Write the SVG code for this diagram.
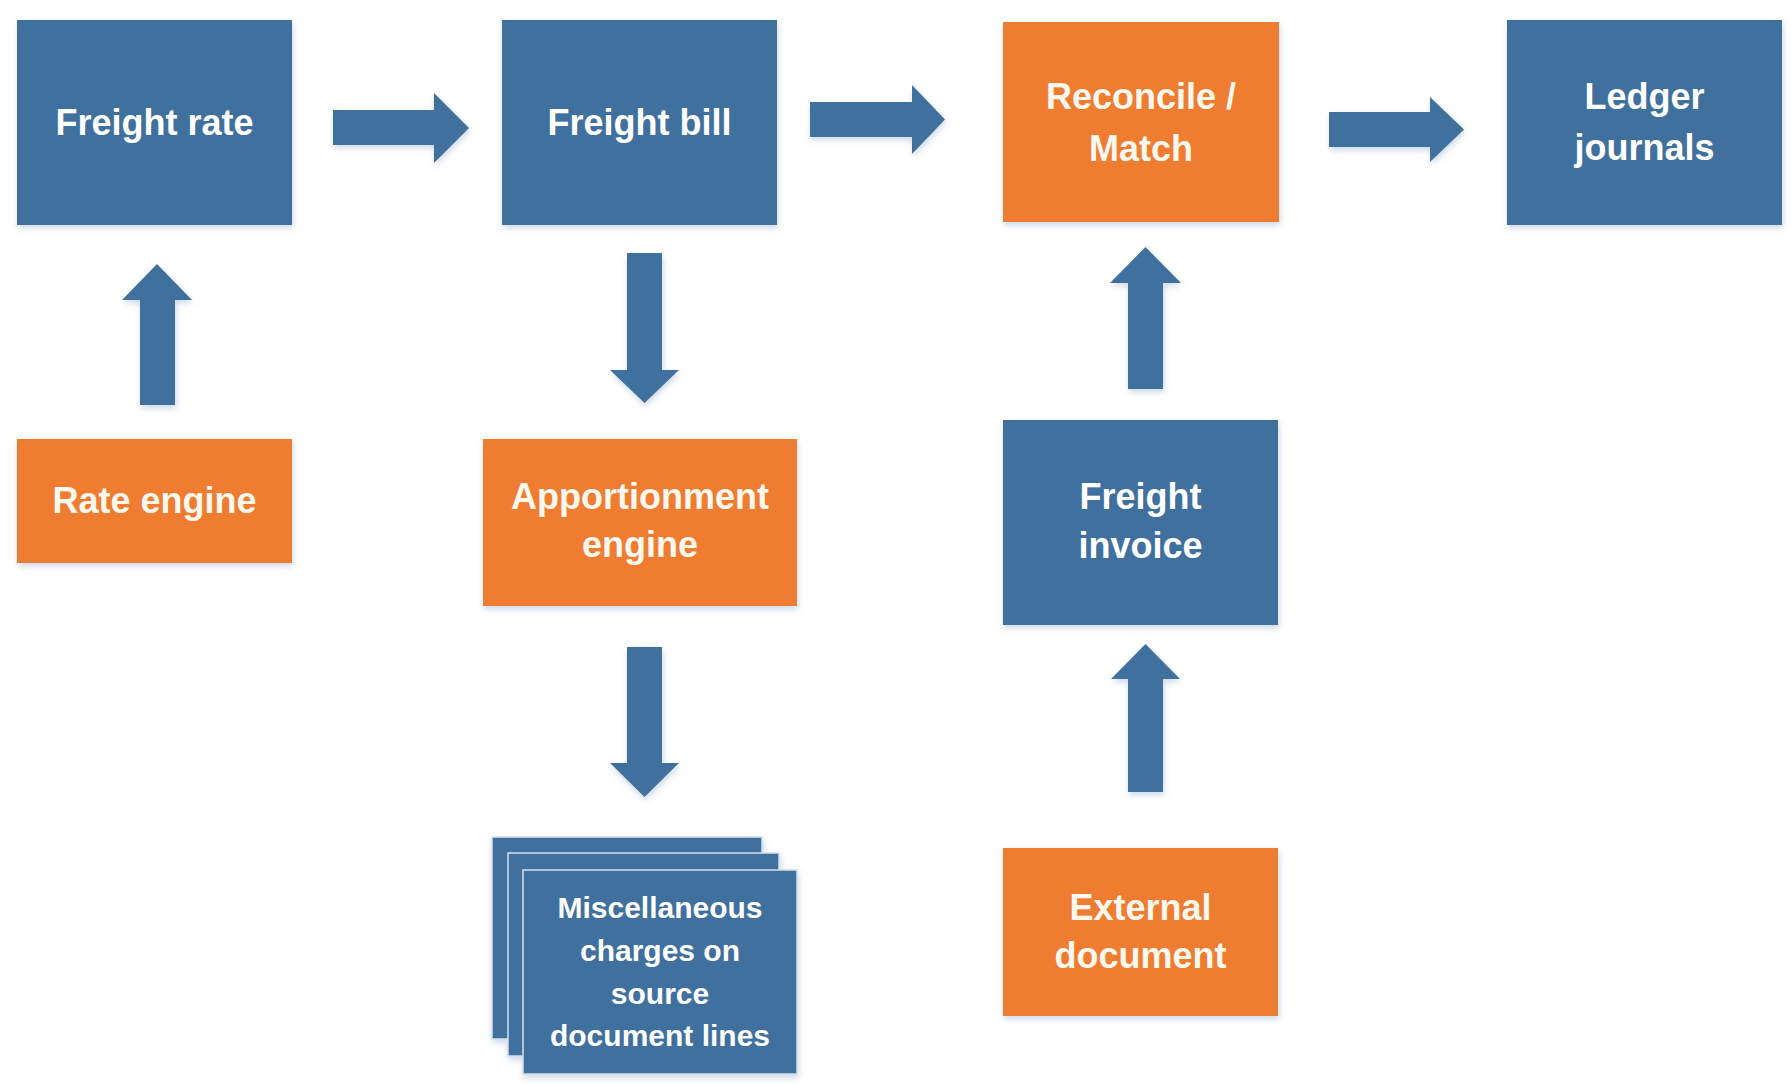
<svg xmlns="http://www.w3.org/2000/svg" width="1791" height="1084" viewBox="0 0 1791 1084">
<defs>
<filter id="sh" x="-10%" y="-10%" width="125%" height="130%">
<feDropShadow dx="1" dy="3" stdDeviation="3" flood-color="#6b8fb8" flood-opacity="0.35"/>
</filter>
<style>
.blue{fill:#41709e;filter:url(#sh)}
.orange{fill:#ee7d31;filter:url(#sh)}
.stk{fill:#41709e;stroke:#d5e0ec;stroke-width:1.5}
.arrow{fill:#41709e;filter:url(#sh)}
.t{font-family:"Liberation Sans",Arial,sans-serif;font-weight:bold;font-size:36px;fill:#ffffff;text-anchor:middle}
.to{fill:#fff8ee}
.s{font-size:30px}
</style>
</defs>
<rect width="1791" height="1084" fill="#ffffff"/>
<g id="connectors">
<polygon class="arrow" points="333,110 434,110 434,93 469,128 434,163 434,145 333,145"/>
<polygon class="arrow" points="810,102 912,102 912,85 945,119.5 912,154 912,137 810,137"/>
<polygon class="arrow" points="1329,112 1430,112 1430,97 1464,129.5 1430,162 1430,147 1329,147"/>
<polygon class="arrow" points="140,405 140,300 122,300 157,264 192,300 175,300 175,405"/>
<polygon class="arrow" points="627,253 662,253 662,370 679,370 644.5,403 610,370 627,370"/>
<polygon class="arrow" points="627,647 662,647 662,763 679,763 644.5,797 610,763 627,763"/>
<polygon class="arrow" points="1128,389 1128,283 1110,283 1145.5,247 1181,283 1163,283 1163,389"/>
<polygon class="arrow" points="1128,792 1128,679 1111,679 1145.5,644 1180,679 1163,679 1163,792"/>
</g>
<g id="freight-rate">
<rect class="blue" x="17" y="20" width="275" height="205"/>
<text class="t" x="154.5" y="135">Freight rate</text>
</g>
<g id="freight-bill">
<rect class="blue" x="502" y="20" width="275" height="205"/>
<text class="t" x="639.5" y="135">Freight bill</text>
</g>
<g id="reconcile-match">
<rect class="orange" x="1003" y="22" width="276" height="200"/>
<text class="t to" x="1141" y="109">Reconcile /</text>
<text class="t to" x="1141" y="161">Match</text>
</g>
<g id="ledger-journals">
<rect class="blue" x="1507" y="20" width="275" height="205"/>
<text class="t" x="1644.5" y="109">Ledger</text>
<text class="t" x="1644.5" y="160">journals</text>
</g>
<g id="rate-engine">
<rect class="orange" x="17" y="439" width="275" height="124"/>
<text class="t to" x="154.5" y="513">Rate engine</text>
</g>
<g id="apportionment-engine">
<rect class="orange" x="483" y="439" width="314" height="167"/>
<text class="t to" x="640" y="509">Apportionment</text>
<text class="t to" x="640" y="557">engine</text>
</g>
<g id="freight-invoice">
<rect class="blue" x="1003" y="420" width="275" height="205"/>
<text class="t" x="1140.5" y="509">Freight</text>
<text class="t" x="1140.5" y="558">invoice</text>
</g>
<g id="external-document">
<rect class="orange" x="1003" y="848" width="275" height="168"/>
<text class="t to" x="1140.5" y="920">External</text>
<text class="t to" x="1140.5" y="968">document</text>
</g>
<g id="misc-charges">
<g filter="url(#sh)">
<rect class="stk" x="492" y="837" width="270" height="202"/>
<rect class="stk" x="508" y="853" width="271" height="203"/>
<rect class="stk" x="523" y="870" width="274" height="204"/>
</g>
<text class="t s" x="660" y="918">Miscellaneous</text>
<text class="t s" x="660" y="961">charges on</text>
<text class="t s" x="660" y="1004">source</text>
<text class="t s" x="660" y="1046">document lines</text>
</g>
</svg>
